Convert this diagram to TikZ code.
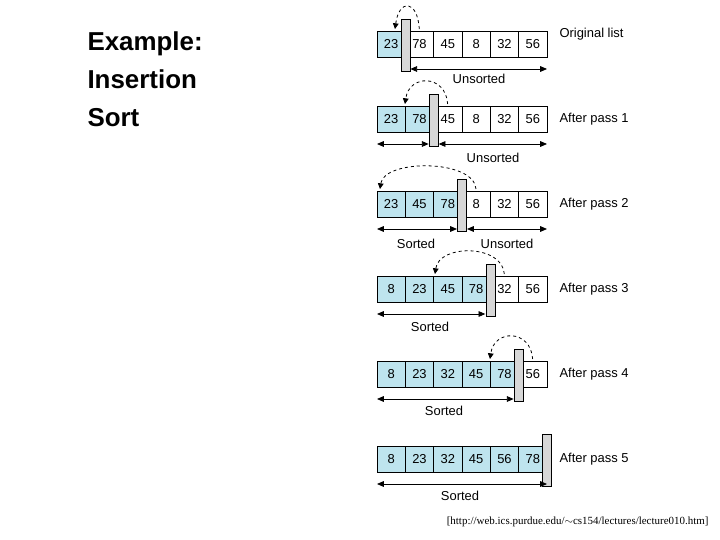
\documentclass[tikz,border=0pt]{standalone}
\usepackage{fontspec}
\setmainfont{Liberation Sans}
\newfontfamily\citefont{Liberation Serif}
\usetikzlibrary{arrows.meta,positioning}
\definecolor{sortblue}{RGB}{190,228,238}
\definecolor{barfill}{RGB}{215,215,215}
\begin{document}
\begin{tikzpicture}[x=1bp, y=-1bp, >={Triangle[length=2.4mm,width=2mm]}]
  \tikzset{
    cell/.style={draw, thick, minimum width=28.3bp, minimum height=26bp, inner sep=0pt, font=\fontsize{13}{15}\selectfont},
    sorted/.style={cell, fill=sortblue},
    marker/.style={draw, fill=barfill, minimum width=9bp, minimum height=52bp, inner sep=0pt},
    span/.style={<->, thick},
    swing/.style={-{Triangle[length=2mm,width=2mm]}, thick, dashed},
    txt/.style={font=\fontsize{13}{15}\selectfont}
  }
  \useasboundingbox (0,0) rectangle (720,540);

  \node[anchor=north west, align=left, font=\bfseries\fontsize{26}{38}\selectfont] (title) at (84,28) {Example:\\Insertion\\Sort};

  \def\cw{28.33}
  % one row per pass: sorted count / values / caption / arc target
  \foreach \r/\n/\vals/\cap/\tgt in {%
      0/1/{23,78,45,8,32,56}/Original list/395,
      1/2/{23,78,45,8,32,56}/After pass 1/405,
      2/3/{23,45,78,8,32,56}/After pass 2/380,
      3/4/{8,23,45,78,32,56}/After pass 3/435,
      4/5/{8,23,32,45,78,56}/After pass 4/490,
      5/6/{8,23,32,45,56,78}/After pass 5/0} {
    \ifnum\r=0
      \def\yc{44}\def\yt{34}
    \else
      \pgfmathsetmacro\yc{34+\r*85}\let\yt\yc
    \fi
    \foreach \v [count=\i from 0] in \vals {
      \ifnum\i<\n
        \node[sorted] (c\r\i) at ({377+\cw/2+\i*\cw},\yc) {\v};
      \else
        \node[cell] (c\r\i) at ({377+\cw/2+\i*\cw},\yc) {\v};
      \fi
    }
    \node[txt, anchor=west] (cap\r) at (556,\yt) {\cap};
    \pgfmathsetmacro\xb{377+\n*\cw}
    \node[marker] (bar\r) at (\xb,\yc+1) {};
    % dashed swing back to the insertion point
    \ifnum\r<5
      \coordinate (from\r) at (\xb+14,\yc-15);
      \coordinate (to\r) at (\tgt,\yc-15);
      \draw[swing] (from\r) .. controls (\xb+12,\yc-45) and (\tgt+4,\yc-45) .. (to\r);
    \fi
    % sorted / unsorted spans
    \coordinate (sl\r) at (377,\yc+25);
    \coordinate (sr\r) at (\xb-5,\yc+25);
    \coordinate (ul\r) at (\xb+5,\yc+25);
    \coordinate (ur\r) at (547,\yc+25);
    \ifnum\r>0
      \ifnum\r<5
        \draw[span] (sl\r) -- (sr\r);
      \else
        \draw[span] (sl\r) -- (ur\r);
      \fi
    \fi
    \ifnum\r<3
      \draw[span] (ul\r) -- (ur\r);
    \fi
  }
  % span labels
  \node[txt] (u0) at (479,79) {Unsorted};
  \node[txt] (u1) at (493,158) {Unsorted};
  \node[txt] (s2) at (416,244) {Sorted};
  \node[txt] (u2) at (507,244) {Unsorted};
  \node[txt] (s3) at (430,327) {Sorted};
  \node[txt] (s4) at (444,411) {Sorted};
  \node[txt] (s5) at (460,496) {Sorted};

  \node[anchor=east, font=\citefont\fontsize{11}{13}\selectfont] (src) at (712,522) {[http://web.ics.purdue.edu/$\sim$cs154/lectures/lecture010.htm]};
\end{tikzpicture}
\end{document}
